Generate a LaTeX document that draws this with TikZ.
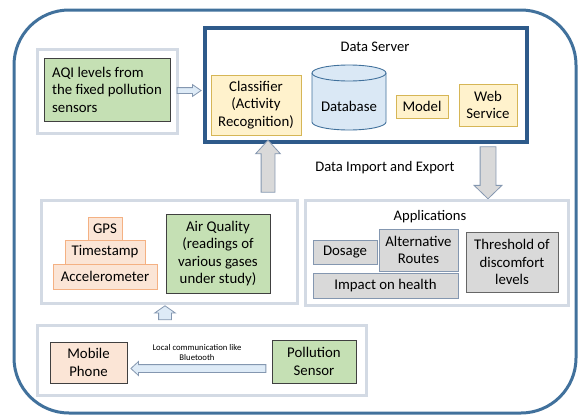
\documentclass[tikz,border=0pt]{standalone}
\usepackage{fontspec}
\setmainfont{Carlito}
\usetikzlibrary{shapes.arrows}
\definecolor{outerblue}{HTML}{41719C}
\definecolor{dsblue}{HTML}{2E5A8A}
\definecolor{contborder}{HTML}{D3DAE4}
\definecolor{yelfill}{HTML}{FFF2CC}
\definecolor{yeldraw}{HTML}{D6B656}
\definecolor{dbfill}{HTML}{DAE8F5}
\definecolor{grnfill}{HTML}{C5E0B4}
\definecolor{darkedge}{HTML}{404040}
\definecolor{pchfill}{HTML}{FBE5D6}
\definecolor{pchdraw}{HTML}{F4B183}
\definecolor{gryfill}{HTML}{D9D9D9}
\definecolor{grydraw}{HTML}{8497B0}
\definecolor{arrlight}{HTML}{DEEBF7}
\begin{document}
\begin{tikzpicture}[x=1pt,y=-1pt,
  font=\fontsize{14.8}{17.5}\selectfont,
  container/.style={draw=contborder, line width=3pt, fill=white, inner sep=0pt},
  box/.style={draw, rectangle, inner sep=0pt, align=center, line width=0.9pt},
  yelbox/.style={box, draw=yeldraw, fill=yelfill},
  grnbox/.style={box, draw=darkedge, fill=grnfill},
  pchbox/.style={box, draw=pchdraw, fill=pchfill},
  gryboxb/.style={box, draw=grydraw, fill=gryfill},
  gryboxd/.style={box, draw=darkedge!80, fill=gryfill},
  blockarrow/.style={single arrow, draw=grydraw, line width=0.8pt, inner xsep=0pt, anchor=center},
  title/.style={font=\fontsize{14.6}{17}\selectfont},
]
\useasboundingbox (0,0) rectangle (578,418);

% outer frame
\node[draw=outerblue, line width=3pt, rounded corners=55pt, minimum width=562, minimum height=403, inner sep=0pt] (frame) at (295,211.5) {};

% data server
\node[draw=dsblue, line width=3.5pt, fill=white, minimum width=322, minimum height=114, inner sep=0pt] (ds) at (366,85) {};
\node[title] (dstitle) at (375,47) {Data Server};
\node[yelbox, minimum width=90, minimum height=60] (cls) at (256,105) {Classifier\\(Activity\\Recognition)};
\path[draw=outerblue, fill=dbfill, line width=0.9pt] (312,73) -- (312,122) arc[start angle=180,end angle=0,x radius=37,y radius=8] -- (386,73) arc[start angle=0,end angle=-180,x radius=37,y radius=8] -- cycle;
\draw[outerblue, line width=0.9pt] (312,73) arc[start angle=180,end angle=0,x radius=37,y radius=8];
\node (db) at (349,106) {Database};
\node[yelbox, minimum width=52, minimum height=23] (model) at (422,106.5) {Model};
\node[yelbox, minimum width=58, minimum height=42] (web) at (488,105) {Web\\Service};

% AQI
\node[container, minimum width=140, minimum height=84] (aqibox) at (107,91) {};
\node[grnbox, align=left, minimum width=126, minimum height=63] (aqi) at (107,89.5) {AQI levels from\\the fixed pollution\\sensors};

% arrows
\node[blockarrow, fill=arrlight, minimum height=24, inner ysep=2.5pt, single arrow head extend=3pt, single arrow tip angle=69] (a1) at (187,90.5) {};
\node[blockarrow, fill=gryfill, rotate=90, minimum height=52, inner ysep=6.5pt, single arrow head extend=5.5pt, single arrow tip angle=85] (a2) at (268,170) {};
\node[blockarrow, fill=gryfill, rotate=-90, minimum height=52, inner ysep=7.5pt, single arrow head extend=6pt, single arrow tip angle=92] (a3) at (488,169) {};
\node[title] (iox) at (385,168) {Data Import and Export};

% sensor data box
\node[container, minimum width=256, minimum height=103] (sensbox) at (169,251.5) {};
\node[pchbox, minimum width=34, minimum height=23] (gps) at (105,228.5) {GPS};
\node[pchbox, minimum width=80, minimum height=24] (ts) at (105,252) {Timestamp};
\node[pchbox, minimum width=104, minimum height=25] (acc) at (105,276.5) {Accelerometer};
\node[grnbox, minimum width=104, minimum height=79] (air) at (218,253.5) {Air Quality\\(readings of\\various gases\\under study)};

\node[blockarrow, fill=arrlight, rotate=90, minimum height=14, inner ysep=6pt, single arrow head extend=4pt, single arrow tip angle=110] (a4) at (165,315) {};

% bottom box
\node[container, minimum width=329, minimum height=70] (botbox) at (201.5,360) {};
\node[box, draw=darkedge, fill=pchfill, minimum width=77, minimum height=41] (mob) at (88.5,362.5) {Mobile\\Phone};
\node[grnbox, minimum width=84, minimum height=43] (ps) at (314,361.5) {Pollution\\Sensor};
\node[blockarrow, fill=arrlight, rotate=180, minimum height=135, inner ysep=3.5pt, single arrow head extend=3pt, single arrow tip angle=85] (a5) at (200.5,368.5) {};
\node[font=\fontsize{8.7}{9.5}\selectfont, align=center, inner sep=0pt] (bt) at (197,352.5) {Local communication like\\Bluetooth};

% applications
\node[container, minimum width=263, minimum height=105] (appbox) at (436.5,252.5) {};
\node[title] (apptitle) at (430,217) {Applications};
\node[gryboxb, minimum width=64, minimum height=24] (dose) at (345,252) {Dosage};
\node[gryboxb, minimum width=79, minimum height=42] (alt) at (418.5,250) {Alternative\\Routes};
\node[gryboxb, minimum width=145, minimum height=25] (imp) at (385.5,285.5) {Impact on health};
\node[gryboxd, minimum width=92, minimum height=60] (thr) at (512,262) {Threshold of\\discomfort\\levels};
\end{tikzpicture}
\end{document}
